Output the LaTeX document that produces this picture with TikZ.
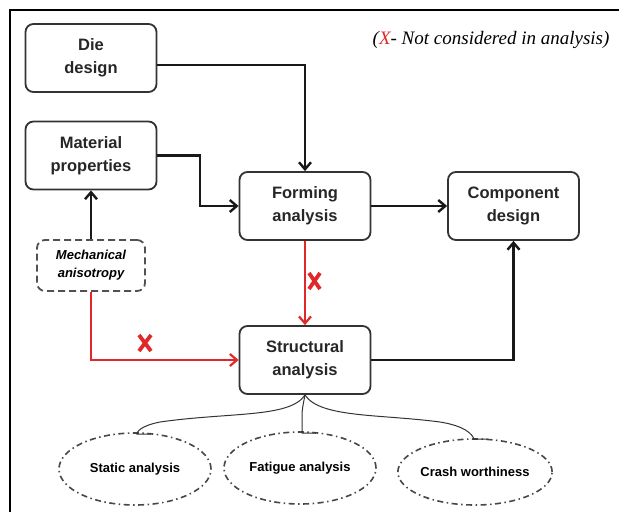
\documentclass[tikz,border=0pt]{standalone}
\usepackage{fontspec}
\setmainfont{Liberation Sans}
\newfontfamily\legendfont{Liberation Serif}
\usetikzlibrary{arrows.meta,shapes.geometric}
\definecolor{xred}{RGB}{225,40,40}
\definecolor{boxgray}{RGB}{50,50,55}
\begin{document}
\begin{tikzpicture}[x=1pt,y=-1pt,
  procbox/.style={draw=boxgray,line width=1.8pt,rounded corners=8pt,minimum width=131pt,minimum height=68pt,align=center,font=\fontsize{16.5}{23}\selectfont\bfseries,text=black!85},
  dashbox/.style={draw=boxgray!85,line width=1.8pt,dash pattern=on 7pt off 4pt,rounded corners=8pt,minimum width=108pt,minimum height=51pt,align=center,font=\fontsize{13}{18}\selectfont\bfseries\itshape},
  oval/.style={ellipse,draw=boxgray!90,line width=1.6pt,dash pattern=on 6pt off 3.5pt on 1.5pt off 3.5pt,inner sep=0pt,minimum width=152pt,minimum height=72pt,font=\fontsize{13}{15}\selectfont\bfseries},
  conn/.style={line width=2.8pt,black!90,-{Straight Barb[length=7pt,width=12pt,line width=2.4pt]}},
  rconn/.style={line width=2.5pt,xred,-{Straight Barb[length=7pt,width=12pt,line width=2.2pt]}},
  tree/.style={line width=1pt,black!80},
  xmark/.style={line width=3.8pt,xred}]
\useasboundingbox (0,0) rectangle (619,512);
\draw[line width=2.5pt] (10,512) -- (10,10) -- (619,10);
\node[anchor=east,font=\legendfont\fontsize{19}{22}\selectfont\itshape] (legend) at (613,40) {(\textcolor{xred}{X}- Not considered in analysis)};
\node[procbox] (die) at (91,58) {Die\\design};
\node[procbox] (mat) at (91,155.5) {Material\\properties};
\node[dashbox] (mech) at (91,265.5) {Mechanical\\anisotropy};
\node[procbox] (form) at (305,206) {Forming\\analysis};
\node[procbox] (comp) at (513.5,206) {Component\\design};
\node[procbox] (struct) at (305,360) {Structural\\analysis};
\node[oval] (stat) at (135,469) {Static analysis};
\node[oval] (fat) at (300,468) {Fatigue analysis};
\node[oval,minimum width=150pt,minimum height=66pt] (crash) at (475,472) {Crash worthiness};
% connectors
\draw[conn] (die.east |- 0,65) -| (form.north);
\draw[conn] (mat.east) -- (200,155.5) |- (form.west);
\draw[conn] (mech.north) -- (mat.south);
\draw[conn] (form.east) -- (comp.west);
\draw[conn] (struct.east) -| (comp.south);
\draw[rconn] (form.south) -- (struct.north);
\draw[rconn] (mech.south) |- (struct.west);
% crosses
\draw[xmark] (309,273) -- (320,289) (320,273) -- (309,289);
\draw[xmark] (139,335) -- (151,351) (151,335) -- (139,351);
% tree
\coordinate (j) at (305,395);
\draw[tree] (j) .. controls (290,418) and (230,412) .. (160,422) .. controls (140,426) and (137,432) .. (137,434) -- (151,434);
\draw[tree] (j) .. controls (303,405) and (302,410) .. (302,416) -- (302,433) -- (316,433);
\draw[tree] (j) .. controls (320,418) and (380,414) .. (440,422) .. controls (465,426) and (472,434) .. (474,439) -- (488,439);
\end{tikzpicture}
\end{document}
